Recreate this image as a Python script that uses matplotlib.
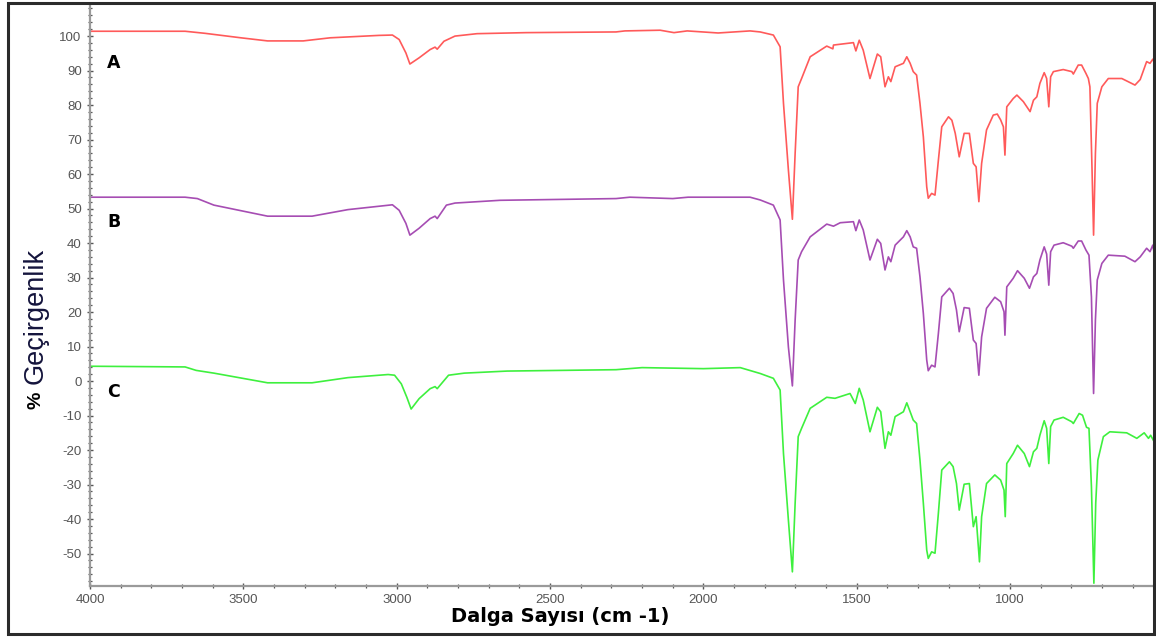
import matplotlib
matplotlib.use("Agg")
import matplotlib.pyplot as plt
from matplotlib.patches import Rectangle
from matplotlib.ticker import MultipleLocator

plt.rcParams['font.family'] = ['Liberation Sans', 'DejaVu Sans']
plt.rcParams['axes.unicode_minus'] = False

# FTIR transmittance spectra (wavenumber in cm-1, transmittance in %)
wn_a = [4000, 3690, 3625, 3508, 3421, 3305, 3217, 3058, 3014, 2992, 2970, 2957,
        2927, 2891, 2875, 2868, 2846, 2810, 2738, 2578, 2285, 2256, 2141, 2096,
        2053, 1952, 1848, 1815, 1772, 1750, 1739, 1723, 1710, 1701, 1691, 1680,
        1652, 1598, 1578, 1576, 1511, 1503, 1492, 1479, 1457, 1433, 1422, 1408,
        1397, 1389, 1375, 1348, 1337, 1326, 1316, 1305, 1294, 1283, 1272, 1267,
        1256, 1245, 1234, 1223, 1201, 1190, 1179, 1166, 1150, 1133, 1120, 1111,
        1102, 1093, 1077, 1055, 1042, 1031, 1022, 1017, 1011, 990, 978, 957,
        935, 924, 913, 903, 889, 881, 874, 868, 859, 827, 799, 794, 778, 767,
        753, 745, 740, 733, 728, 722, 716, 701, 680, 636, 620, 593, 576, 555,
        544, 535, 531]
t_a = [101.4, 101.4, 100.8, 99.5, 98.6, 98.6, 99.5, 100.2, 100.3, 99.0, 95.1, 91.9,
       93.7, 96.1, 96.8, 96.2, 98.5, 100.0, 100.7, 101.0, 101.2, 101.5, 101.7, 101.0,
       101.5, 100.9, 101.5, 101.2, 100.3, 96.9, 80.5, 61.2, 46.9, 66.0, 85.3, 87.7,
       94.0, 97.1, 96.3, 97.4, 98.1, 95.7, 98.8, 95.9, 87.7, 94.8, 94.0, 85.3,
       88.2, 86.8, 91.1, 92.1, 94.0, 92.1, 89.7, 88.7, 80.5, 70.8, 56.3, 53.0,
       54.4, 53.9, 64.0, 73.7, 76.6, 75.6, 71.8, 65.0, 71.8, 71.8, 63.1, 62.1,
       52.0, 63.1, 72.8, 77.1, 77.4, 75.7, 73.7, 65.5, 79.5, 81.9, 82.9, 81.0,
       78.1, 81.4, 82.4, 86.3, 89.4, 87.7, 79.5, 88.2, 89.7, 90.3, 89.7, 89.0, 91.6, 91.6,
       89.2, 87.7, 85.3, 61.2, 42.3, 66.0, 80.5, 85.3, 87.7, 87.7, 87.0, 85.8, 87.4, 92.6,
       92.1, 93.3, 92.5]

wn_b = [4000, 3690, 3650, 3596, 3421, 3276, 3159, 3014, 2992, 2970, 2957, 2927,
        2891, 2875, 2868, 2838, 2810, 2663, 2285, 2240, 2100, 2050, 1848, 1815,
        1772, 1750, 1739, 1723, 1710, 1701, 1691, 1680, 1652, 1598, 1576, 1554,
        1511, 1503, 1492, 1479, 1457, 1433, 1422, 1408, 1397, 1389, 1375, 1348,
        1337, 1326, 1316, 1305, 1294, 1283, 1272, 1267, 1256, 1245, 1234, 1223,
        1198, 1186, 1175, 1166, 1150, 1133, 1120, 1111, 1102, 1093, 1077, 1050,
        1031, 1020, 1017, 1011, 990, 976, 954, 937, 924, 913, 903, 889, 881, 874,
        868, 857, 827, 799, 794, 778, 767, 753, 743, 735, 728, 722, 716, 701, 680,
        626, 593, 576, 555, 544, 535, 531]
t_b = [53.3, 53.3, 52.9, 51.0, 47.8, 47.8, 49.7, 51.1, 49.5, 45.7, 42.3, 44.3,
       47.1, 47.8, 47.1, 51.0, 51.6, 52.4, 52.9, 53.3, 52.9, 53.3, 53.3, 52.5,
       51.0, 46.7, 29.3, 9.9, -1.4, 17.7, 35.1, 37.5, 41.8, 45.5, 44.9, 45.9,
       46.2, 43.6, 46.7, 43.8, 35.1, 41.1, 39.9, 32.2, 36.0, 34.6, 39.4, 41.8,
       43.6, 41.8, 38.9, 38.5, 30.2, 19.6, 6.1, 3.0, 4.6, 4.1, 13.8, 24.4,
       26.9, 25.4, 20.6, 14.3, 21.3, 21.1, 11.9, 10.9, 1.7, 12.8, 21.1, 24.3,
       23.0, 20.1, 13.3, 27.3, 29.8, 32.0, 29.8, 26.9, 30.2, 31.2, 35.1, 38.9, 36.8, 27.8,
       37.5, 39.4, 40.1, 39.1, 38.5, 40.6, 40.6, 38.0, 36.5, 24.4, -3.6, 17.7, 29.3, 34.1, 36.5,
       36.2, 34.6, 36.0, 38.5, 37.5, 39.4, 37.5]

wn_c = [4000, 3690, 3654, 3596, 3421, 3276, 3159, 3028, 3007, 2985, 2967, 2953,
        2927, 2891, 2875, 2868, 2831, 2780, 2640, 2285, 2200, 2000, 1880, 1815,
        1772, 1750, 1739, 1723, 1710, 1701, 1691, 1680, 1652, 1598, 1571, 1522,
        1505, 1492, 1479, 1457, 1433, 1422, 1408, 1397, 1389, 1375, 1348, 1337,
        1326, 1316, 1305, 1294, 1283, 1272, 1267, 1256, 1245, 1234, 1223, 1198,
        1186, 1175, 1166, 1150, 1133, 1120, 1111, 1100, 1093, 1077, 1050, 1031,
        1020, 1016, 1011, 990, 976, 954, 937, 924, 913, 903, 889, 881, 874, 868,
        857, 827, 799, 794, 775, 764, 751, 743, 735, 727, 721, 714, 696, 675,
        620, 587, 563, 549, 542, 531]
t_c = [4.3, 4.1, 3.1, 2.3, -0.5, -0.5, 1.0, 1.9, 1.7, -0.8, -4.7, -8.1,
       -5.1, -2.2, -1.6, -2.2, 1.7, 2.3, 2.9, 3.3, 3.9, 3.6, 3.9, 2.2,
       0.8, -2.6, -21.0, -40.3, -55.3, -35.4, -16.1, -13.7, -7.9, -4.7, -5.0, -3.6,
       -6.5, -2.1, -5.5, -14.7, -7.6, -8.9, -19.5, -14.7, -15.7, -10.3, -8.9, -6.3,
       -8.9, -11.3, -12.3, -22.9, -35.4, -49.0, -51.4, -49.5, -49.9, -38.3, -25.8, -23.4,
       -24.8, -29.7, -37.4, -29.9, -29.7, -42.2, -39.3, -52.4, -39.3, -29.7, -27.2, -28.7,
       -31.6, -39.3, -23.9, -21.0, -18.6, -21.0, -24.8, -20.5, -19.5, -15.7, -11.5, -13.7, -23.9, -13.2,
       -11.3, -10.5, -11.8, -12.3, -9.4, -9.9, -13.4, -13.7, -30.6, -58.6, -35.4, -22.9, -16.1, -14.7,
       -15.0, -16.6, -15.0, -16.6, -15.7, -17.5]

labels = ["A", "B", "C"]
label_y = [92.3, 46.0, -3.3]
colors = ["#ff5a5a", "#a64db3", "#3ef03e"]

fig = plt.figure(figsize=(11.56, 6.39), dpi=100)
ax = fig.add_axes([90 / 1156, 1 - 586 / 639, 1064 / 1156, 582 / 639])

for wn, t, c in zip([wn_a, wn_b, wn_c], [t_a, t_b, t_c], colors):
    ax.plot(wn, t, color=c, lw=1.2, solid_joinstyle="round")

for lab, y in zip(labels, label_y):
    ax.text(3944, y, lab, fontsize=12.5, fontweight="bold", color="black",
            family=["DejaVu Sans"], ha="left", va="center")

ax.set_xlim(4000, 531)
ax.set_ylim(-59.4, 109.3)
ax.xaxis.set_major_locator(MultipleLocator(500))
ax.xaxis.set_minor_locator(MultipleLocator(100))
ax.yaxis.set_major_locator(MultipleLocator(10))
ax.yaxis.set_minor_locator(MultipleLocator(2))
ax.set_yticks(range(-50, 101, 10))

for side in ("top", "right"):
    ax.spines[side].set_visible(False)
for side in ("left", "bottom"):
    ax.spines[side].set_color("#9a9a9a")
    ax.spines[side].set_linewidth(1.6)

ax.tick_params(which="major", direction="inout", length=4, width=1.0,
               color="#555555", labelsize=9.5, labelcolor="#555555", pad=4)
ax.tick_params(which="minor", direction="inout", length=3, width=0.9,
               color="#555555")

fig.text(560 / 1156, 1 - 617 / 639, "Dalga Sayısı (cm -1)", fontsize=14,
         fontweight="bold", color="black", family=["DejaVu Sans"],
         ha="center", va="center")
fig.text(36 / 1156, 1 - 400 / 639, "%", fontsize=14, fontweight="bold",
         color="black", rotation=90, ha="center", va="center")
fig.text(36 / 1156, 1 - 384 / 639, "Geçirgenlik", fontsize=19.5,
         color="#14143c", rotation=90, ha="center", va="bottom")

# outer frame around the figure
fig.patches.append(Rectangle((8 / 1156, 1 - 634 / 639), 1146 / 1156, 631 / 639,
                             transform=fig.transFigure, fill=False,
                             edgecolor="#2b2b2b", linewidth=2.2))

fig.savefig("out.png", dpi=100)
